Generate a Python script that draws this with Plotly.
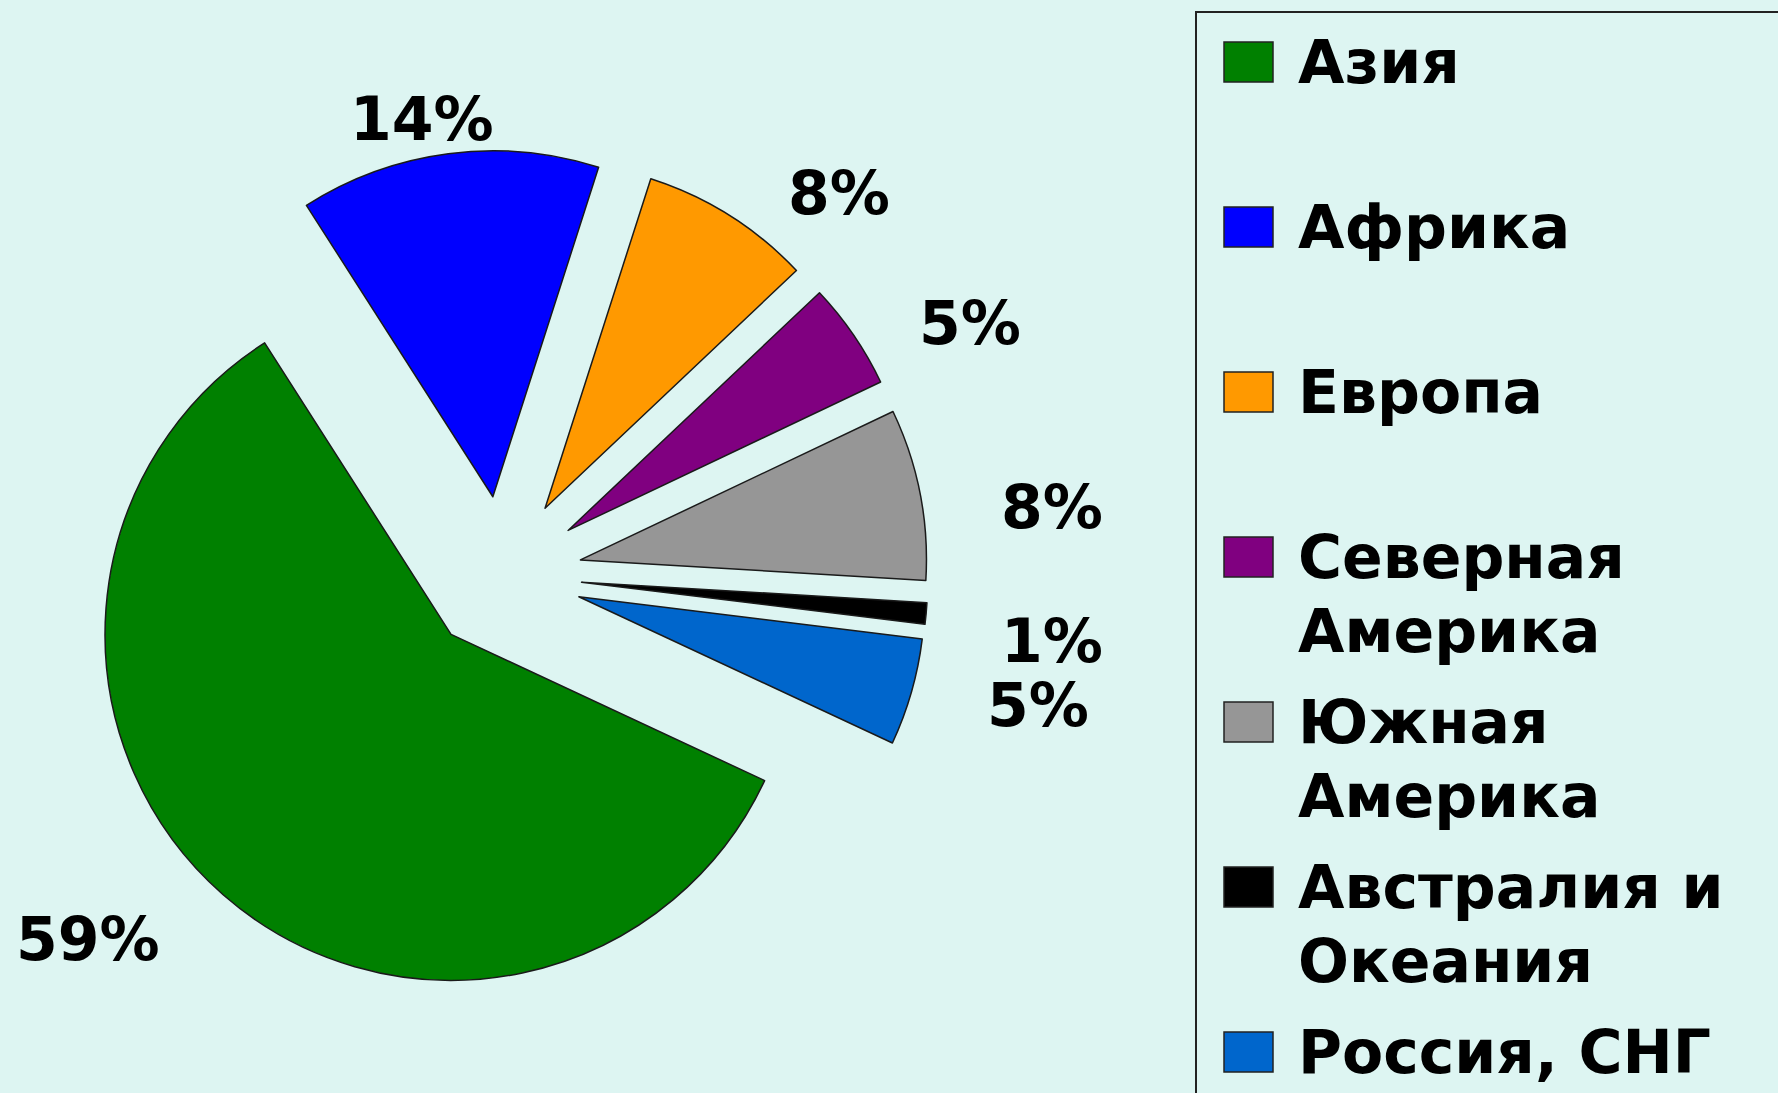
import plotly.graph_objects as go

# ---- data ----
regions = ["Азия", "Африка", "Европа", "Северная Америка", "Южная Америка",
           "Австралия и Океания", "Россия, СНГ"]
legend_text = ["Азия", "Африка", "Европа", "Северная<br>Америка", "Южная<br>Америка",
               "Австралия и<br>Океания", "Россия, СНГ"]
shares = [59, 14, 8, 5, 8, 1, 5]
colors = ["#008000", "#0000ff", "#ff9900", "#800080", "#969696", "#000000", "#0066cc"]

# ---- layout helpers (pixels -> paper) ----
W, H = 1778, 1093
BG = "#ddf5f2"
FONT = "DejaVu Sans"


def px(x):
    return x / W


def py(y):
    return 1 - y / H


# pie geometry (pixels)
cx, cy, R, pull = 503, 575, 346, 0.228
half = R * (1 + pull)

fig = go.Figure(go.Pie(
    labels=regions,
    values=shares,
    sort=False,
    direction="clockwise",
    rotation=115,
    pull=[pull] * len(shares),
    marker=dict(colors=colors, line=dict(color="#1a1a1a", width=1.5)),
    textinfo="none",
    hoverinfo="label+percent",
    showlegend=False,
    domain=dict(x=[px(cx - half), px(cx + half)], y=[py(cy + half), py(cy - half)]),
))

annotations = []
shapes = []

# percentage labels
label_xy = [(88, 939), (422, 119), (839, 193), (970, 323), (1052, 507), (1052, 641), (1038, 705)]
for v, (lx, ly) in zip(shares, label_xy):
    annotations.append(dict(
        x=px(lx), y=py(ly), xref="paper", yref="paper", showarrow=False,
        text=f"<b>{v}%</b>", xanchor="center", yanchor="middle",
        font=dict(family=FONT, size=60, color="black"),
    ))

# legend box
shapes.append(dict(type="rect", xref="paper", yref="paper",
                   x0=px(1196), x1=px(1800), y0=py(1120), y1=py(12),
                   line=dict(color="#222222", width=2), fillcolor=BG, layer="below"))

# legend entries
first_y, step, line_h = 62, 165, 74
for i, (txt, col) in enumerate(zip(legend_text, colors)):
    yc = first_y + step * i
    shapes.append(dict(type="rect", xref="paper", yref="paper",
                       x0=px(1224), x1=px(1273), y0=py(yc + 20), y1=py(yc - 20),
                       line=dict(color="#222222", width=1.5), fillcolor=col))
    for k, line in enumerate(txt.split("<br>")):
        annotations.append(dict(
            x=px(1296), y=py(yc + k * line_h), xref="paper", yref="paper", showarrow=False,
            text=f"<b>{line}</b>", xanchor="left", yanchor="middle",
            font=dict(family=FONT, size=60, color="black"),
        ))

fig.update_layout(
    width=W, height=H, autosize=False,
    margin=dict(l=0, r=0, t=0, b=0, pad=0),
    paper_bgcolor=BG, plot_bgcolor=BG,
    annotations=annotations, shapes=shapes,
    showlegend=False,
)

fig.write_html("out.html", config={"displayModeBar": False},
               post_script="document.body.style.margin='0';document.body.style.overflow='hidden';")
